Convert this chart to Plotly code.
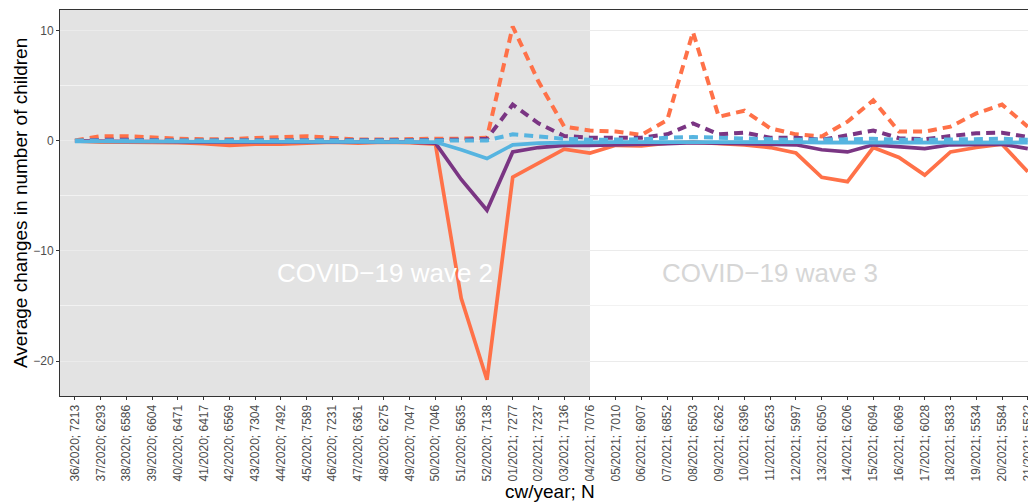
import plotly.graph_objects as go

weeks = ["36/2020; 7213", "37/2020; 6293", "38/2020; 6586", "39/2020; 6604", "40/2020; 6471",
         "41/2020; 6417", "42/2020; 6569", "43/2020; 7304", "44/2020; 7492", "45/2020; 7589",
         "46/2020; 7231", "47/2020; 6361", "48/2020; 6275", "49/2020; 7047", "50/2020; 7046",
         "51/2020; 5635", "52/2020; 7138", "01/2021; 7277", "02/2021; 7237", "03/2021; 7136",
         "04/2021; 7076", "05/2021; 7010", "06/2021; 6907", "07/2021; 6852", "08/2021; 6503",
         "09/2021; 6262", "10/2021; 6396", "11/2021; 6253", "12/2021; 5997", "13/2021; 6050",
         "14/2021; 6206", "15/2021; 6094", "16/2021; 6069", "17/2021; 6028", "18/2021; 5833",
         "19/2021; 5534", "20/2021; 5584", "21/2021; 5522"]

orange_solid = [0.0, -0.1, -0.1, -0.1, -0.15, -0.25, -0.4, -0.3, -0.3, -0.2, -0.1, -0.2, -0.1, -0.15,
                -0.3, -14.3, -21.7, -3.3, -2.0, -0.75, -1.1, -0.4, -0.45, -0.2, -0.1, -0.2, -0.35,
                -0.6, -1.1, -3.3, -3.7, -0.6, -1.5, -3.1, -1.0, -0.6, -0.3, -2.8]
orange_dashed = [0.05, 0.43, 0.43, 0.27, 0.2, 0.15, 0.15, 0.27, 0.36, 0.43, 0.27, 0.12, 0.12, 0.2,
                 0.2, 0.2, 0.3, 10.4, 5.4, 1.3, 0.95, 0.85, 0.55, 1.9, 9.9, 2.2, 2.75, 1.15, 0.6,
                 0.4, 1.75, 3.7, 0.85, 0.85, 1.3, 2.5, 3.3, 1.3]
purple_solid = [0.0, -0.05, -0.05, -0.05, -0.1, -0.1, -0.1, -0.1, -0.1, -0.05, -0.05, -0.1, -0.05,
                -0.1, -0.2, -3.5, -6.3, -1.0, -0.6, -0.4, -0.4, -0.35, -0.35, -0.25, -0.15, -0.2,
                -0.3, -0.3, -0.35, -0.8, -1.0, -0.35, -0.5, -0.7, -0.35, -0.3, -0.3, -0.7]
purple_dashed = [0.0, 0.1, 0.1, 0.05, 0.05, 0.05, 0.05, 0.05, 0.1, 0.1, 0.05, 0.05, 0.05, 0.05,
                 0.05, 0.1, 0.2, 3.3, 1.6, 0.45, 0.3, 0.3, 0.3, 0.6, 1.6, 0.6, 0.75, 0.3, 0.3,
                 0.1, 0.55, 0.95, 0.25, 0.15, 0.45, 0.7, 0.75, 0.35]
blue_solid = [-0.05, -0.05, -0.05, -0.05, -0.05, -0.05, -0.05, -0.05, -0.05, -0.05, -0.05, -0.05,
              -0.05, -0.05, -0.1, -0.8, -1.6, -0.35, -0.2, -0.15, -0.1, -0.1, -0.1, -0.1, -0.05,
              -0.1, -0.1, -0.1, -0.1, -0.15, -0.15, -0.1, -0.1, -0.15, -0.1, -0.1, -0.1, -0.15]
blue_dashed = [0.05, 0.05, 0.05, 0.05, 0.05, 0.05, 0.05, 0.05, 0.05, 0.05, 0.05, 0.05, 0.05, 0.05,
               0.05, 0.05, 0.05, 0.6, 0.4, 0.2, 0.1, 0.1, 0.15, 0.3, 0.35, 0.3, 0.2, 0.15, 0.1,
               0.1, 0.15, 0.2, 0.1, 0.1, 0.15, 0.15, 0.2, 0.1]

y_ticks = [-20, -10, 0, 10]
y_tick_text = ["\u221220", "\u221210", "0", "10"]

ORANGE = "#FF7148"
PURPLE = "#7A3583"
BLUE = "#56B4E0"
FONT = "Liberation Sans, Arial, sans-serif"

fig = go.Figure()
series = [
    (orange_dashed, ORANGE, "9px,6px", 4.0),
    (orange_solid, ORANGE, "solid", 3.7),
    (purple_dashed, PURPLE, "9px,6px", 4.0),
    (purple_solid, PURPLE, "solid", 3.7),
    (blue_dashed, BLUE, "9px,6px", 4.0),
    (blue_solid, BLUE, "solid", 3.7),
]
for vals, col, dash, w in series:
    fig.add_trace(go.Scatter(x=weeks, y=vals, mode="lines",
                             line=dict(color=col, width=w, dash=dash),
                             showlegend=False, hoverinfo="skip"))

fig.add_shape(type="rect", xref="x", yref="paper", x0=-1, x1=20, y0=0, y1=1,
              fillcolor="#E3E3E3", line=dict(width=0), layer="below")

fig.add_annotation(x=12.05, y=-12, xref="x", yref="y", text="COVID\u221219 wave 2",
                   showarrow=False, font=dict(family=FONT, size=26, color="#FFFFFF"))
fig.add_annotation(x=27, y=-12, xref="x", yref="y", text="COVID\u221219 wave 3",
                   showarrow=False, font=dict(family=FONT, size=26, color="#D6D6D6"))

# axis titles (positions relative to the plot area)
fig.add_annotation(x=(550 - 60) / 976, y=(396 - 491) / 386, xref="paper", yref="paper",
                   text="cw/year; N", showarrow=False, xanchor="center", yanchor="middle",
                   font=dict(family=FONT, size=19, color="black"))
fig.add_annotation(x=(20 - 60) / 976, y=(396 - 203) / 386, xref="paper", yref="paper",
                   text="Average changes in number of children", textangle=-90,
                   showarrow=False, xanchor="center", yanchor="middle",
                   font=dict(family=FONT, size=19, color="black"))

# page body has an 8px margin, so the figure is offset by 8px
fig.update_layout(
    width=1028, height=495,
    margin=dict(l=52, r=0, t=2, b=107, autoexpand=False),
    paper_bgcolor="white", plot_bgcolor="white",
    font=dict(family=FONT),
    xaxis=dict(
        type="category", range=[-0.58, 37.32], automargin=False,
        tickangle=-90, tickfont=dict(size=12, color="#4D4D4D"),
        ticklabeloverflow="allow",
        ticks="outside", ticklen=3, tickcolor="#333333",
        showgrid=False, zeroline=False,
        showline=True, linecolor="#333333", linewidth=1, mirror=True,
    ),
    yaxis=dict(
        range=[-23.18, 11.9], automargin=False,
        tickvals=y_ticks, ticktext=y_tick_text,
        tickfont=dict(size=12, color="#4D4D4D"),
        ticks="outside", ticklen=3, tickcolor="#333333",
        showgrid=True, gridcolor="#EBEBEB", gridwidth=1,
        minor=dict(tickvals=[-15, -5, 5], showgrid=True, gridcolor="#F2F2F2", gridwidth=0.6, ticks=""),
        zeroline=False,
        showline=True, linecolor="#333333", linewidth=1, mirror=False,
    ),
)

fig.write_html("out.html")
